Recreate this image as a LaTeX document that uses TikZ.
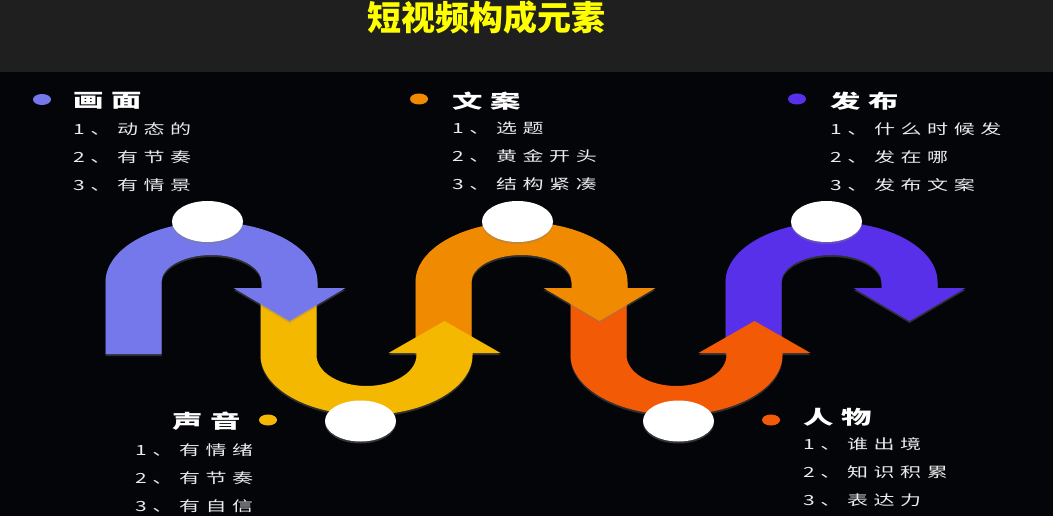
\documentclass[tikz,border=0pt]{standalone}
\usepackage{fontspec}
\usetikzlibrary{shapes.geometric,shadows}

\newfontfamily\cjk{Noto Sans CJK SC}
\newfontfamily\headfont[FakeStretch=1.6,LetterSpace=40]{Noto Sans CJK SC}
\newfontfamily\itemfont[FakeStretch=1.5,LetterSpace=40]{Noto Sans CJK SC}

\definecolor{bgdark}{RGB}{4,5,9}
\definecolor{bardark}{RGB}{31,31,31}
\definecolor{titleyellow}{RGB}{255,255,0}
\definecolor{itemgray}{RGB}{235,235,235}
\definecolor{huamian}{RGB}{117,120,234}
\definecolor{shengyin}{RGB}{245,184,0}
\definecolor{wenan}{RGB}{240,138,0}
\definecolor{renwu}{RGB}{242,90,6}
\definecolor{fabu}{RGB}{89,48,234}

% arch over the top, arrow down on the right: #1 = centre x, #2 = colour
\newcommand{\archup}[2]{%
  \fill[#2,band] (#1-106,354) -- (#1-106,282)
    arc[start angle=180,end angle=360,x radius=106,y radius=60]
    -- (#1+106,288) -- (#1+134,288) -- (#1+78,321) -- (#1+22,288)
    -- (#1+50,288) -- (#1+50,282)
    arc[start angle=0,end angle=-180,x radius=50,y radius=27]
    -- (#1-50,354) -- cycle;}

% bend underneath, arrow up on the right
\newcommand{\archdown}[2]{%
  \fill[#2,band] (#1-106,288) -- (#1-106,355)
    arc[start angle=180,end angle=0,x radius=106,y radius=60]
    -- (#1+106,353) -- (#1+134,353) -- (#1+78,321) -- (#1+22,353)
    -- (#1+50,353) -- (#1+50,355)
    arc[start angle=0,end angle=180,x radius=50,y radius=31]
    -- (#1-50,288) -- cycle;}

\begin{document}
\begin{tikzpicture}[x=1pt,y=-1pt,
  band/.style={drop shadow={shadow xshift=0pt,shadow yshift=-2pt,opacity=0.35}},
  spot/.style={ellipse,fill=white,minimum width=71,minimum height=41,inner sep=0,
    drop shadow={shadow xshift=0pt,shadow yshift=-2pt,opacity=0.4}},
  dot/.style={ellipse,minimum width=18,minimum height=11,inner sep=0},
  heading/.style={anchor=west,inner sep=0,text=white,font=\headfont\bfseries\fontsize{19}{19}\selectfont},
  items/.style={anchor=north west,inner sep=0,align=left,text=itemgray,font=\itemfont\fontsize{14}{28}\selectfont}]

\useasboundingbox (0,0) rectangle (1053,516);

% draw background
\fill[bgdark] (0,0) rectangle (1053,516);
\fill[bardark] (0,0) rectangle (1053,72);
\node[text=titleyellow,font=\cjk\bfseries\fontsize{34}{34}\selectfont] (title) at (486,18) {短视频构成元素};

% draw bands, last one first
\archup{831.5}{fabu}
\archdown{676.5}{renwu}
\archup{521.5}{wenan}
\archdown{366.5}{shengyin}
\archup{211.5}{huamian}

% draw spots
\node[spot] (spota) at (207.5,221.5) {};
\node[spot] (spotb) at (360.5,421) {};
\node[spot] (spotc) at (517.5,221.5) {};
\node[spot] (spotd) at (678.5,421) {};
\node[spot] (spote) at (826.5,221.5) {};

% draw labels
\node[dot,fill=huamian] (dotpic) at (42,99.5) {};
\node[heading] (headpic) at (73,101) {画面};
\node[items] (itempic) at (73,122) {1、动态的\\2、有节奏\\3、有情景};

\node[dot,fill=wenan] (dotcopy) at (419,99) {};
\node[heading] (headcopy) at (452,101) {文案};
\node[items] (itemcopy) at (452,122) {1、选题\\2、黄金开头\\3、结构紧凑};

\node[dot,fill=fabu] (dotpub) at (797,99) {};
\node[heading] (headpub) at (830,101) {发布};
\node[items] (itempub) at (830,122) {1、什么时候发\\2、发在哪\\3、发布文案};

\node[dot,fill=shengyin] (dotsound) at (268,420) {};
\node[heading] (headsound) at (172,421) {声音};
\node[items] (itemsound) at (135,444) {1、有情绪\\2、有节奏\\3、有自信};

\node[dot,fill=renwu] (dotpeople) at (771,420) {};
\node[heading] (headpeople) at (803,417) {人物};
\node[items] (itempeople) at (803,437) {1、谁出境\\2、知识积累\\3、表达力};

\end{tikzpicture}
\end{document}
